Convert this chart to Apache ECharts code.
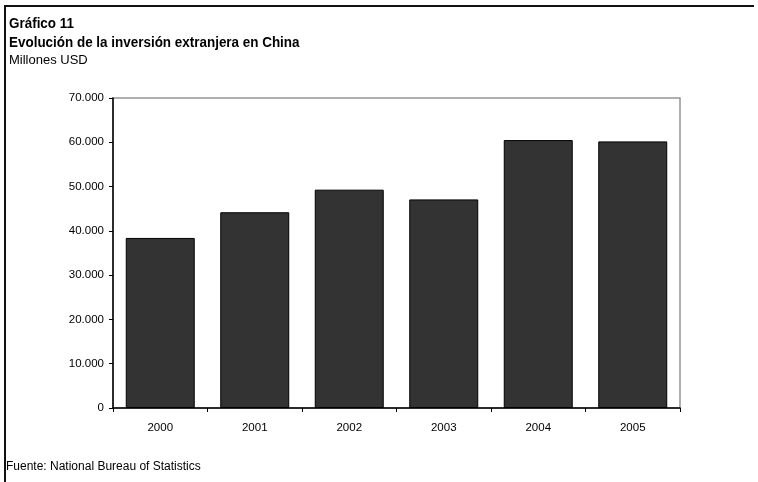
<!DOCTYPE html>
<html>
<head>
<meta charset="utf-8">
<script src="https://cdn.jsdelivr.net/npm/echarts@6/dist/echarts.min.js"></script>
<style>
  html, body { margin: 0; padding: 0; background: #ffffff; }
  #chart { width: 758px; height: 482px; }
</style>
</head>
<body>
<div id="chart"></div>
<script>
// Inversión extranjera en China, millones USD
const years = ['2000', '2001', '2002', '2003', '2004', '2005'];
const inversion = [38400, 44200, 49300, 47100, 60500, 60200];
const yTicks = { min: 0, max: 70000, interval: 10000 };

const FONT = '"Liberation Sans", Arial, sans-serif';

function fmtMiles(v) {
  return String(v).replace(/\B(?=(\d{3})+(?!\d))/g, '.');
}

const chart = echarts.init(document.getElementById('chart'), null, { renderer: 'canvas' });

chart.setOption({
  animation: false,
  backgroundColor: '#ffffff',
  textStyle: { fontFamily: FONT },
  grid: {
    left: 113, top: 98, right: 78, bottom: 74,
    show: true, borderColor: '#959595', borderWidth: 1.5
  },
  graphic: [
    { type: 'line', shape: { x1: 4, y1: 6, x2: 754, y2: 6 }, style: { stroke: '#111', lineWidth: 2 } },
    { type: 'line', shape: { x1: 5, y1: 6, x2: 5, y2: 482 }, style: { stroke: '#111', lineWidth: 2 } },
    { type: 'text', x: 9, y: 17, scaleX: 0.96, style: { text: 'Gráfico 11', font: 'bold 14px ' + FONT, fill: '#000' } },
    { type: 'text', x: 9, y: 36, scaleX: 0.96, style: { text: 'Evolución de la inversión extranjera en China', font: 'bold 14px ' + FONT, fill: '#000' } },
    { type: 'text', x: 9, y: 54, style: { text: 'Millones USD', font: '13px ' + FONT, fill: '#000' } },
    { type: 'text', x: 6, y: 461, style: { text: 'Fuente: National Bureau of Statistics', font: '12px ' + FONT, fill: '#000' } }
  ],
  xAxis: {
    type: 'category',
    data: years,
    boundaryGap: true,
    axisLine: { lineStyle: { color: '#000', width: 1.5 } },
    axisTick: { show: true, alignWithLabel: false, length: 4, lineStyle: { color: '#000' } },
    axisLabel: { color: '#000', fontSize: 11.5, fontFamily: FONT, margin: 14 },
    splitLine: { show: false }
  },
  yAxis: {
    type: 'value',
    min: yTicks.min, max: yTicks.max, interval: yTicks.interval,
    axisLine: { show: true, lineStyle: { color: '#000', width: 1.5 } },
    axisTick: { show: true, length: 4, lineStyle: { color: '#000' } },
    axisLabel: { color: '#000', fontSize: 11.5, fontFamily: FONT, margin: 9, formatter: fmtMiles },
    splitLine: { show: false }
  },
  series: [{
    type: 'bar',
    data: inversion,
    barCategoryGap: '27%',
    itemStyle: { color: '#333333', borderColor: '#000', borderWidth: 1 }
  }]
});
</script>
</body>
</html>
